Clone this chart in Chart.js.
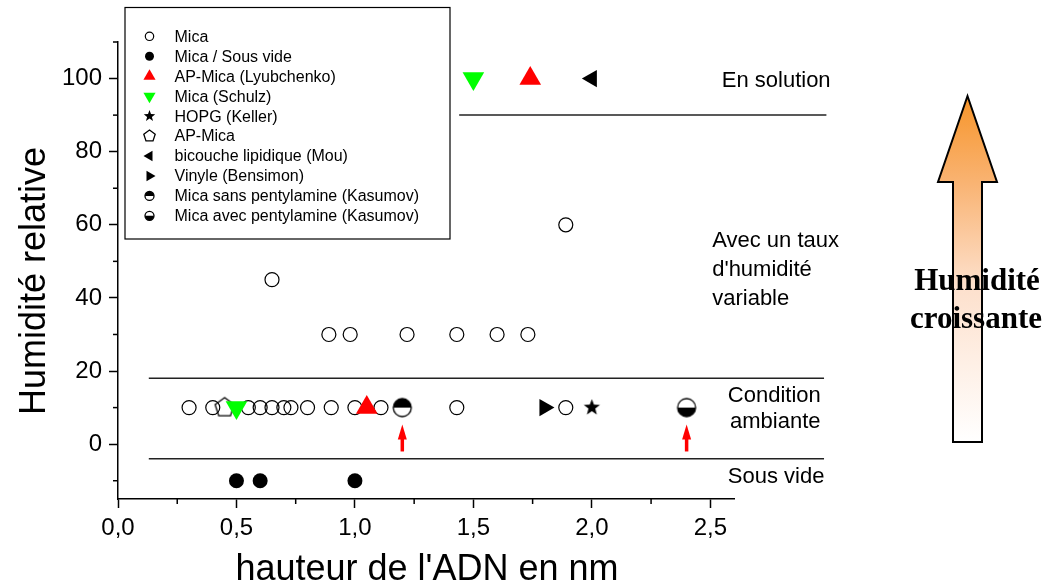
<!DOCTYPE html>
<html>
<head>
<meta charset="utf-8">
<script src="https://cdn.jsdelivr.net/npm/chart.js@4/dist/chart.umd.min.js"></script>
<style>
  html, body { margin: 0; padding: 0; background: #fff; }
  #wrap { width: 1049px; height: 588px; }
</style>
</head>
<body>
<div id="wrap"><canvas id="c" width="1049" height="588"></canvas></div>
<script>
// DNA height (nm) vs relative humidity (%) for each substrate / source
const heightMica = [0.30, 0.40, 0.55, 0.60, 0.65, 0.70, 0.73, 0.80, 0.90, 1.00, 1.11, 1.43, 1.89,
                    0.65, 0.89, 0.98, 1.22, 1.43, 1.60, 1.73, 1.89];
const humidityMica = [10, 10, 10, 10, 10, 10, 10, 10, 10, 10, 10, 10, 10,
                      45, 30, 30, 30, 30, 30, 30, 60];
const heightVacuum = [0.50, 0.60, 1.00];
const humidityVacuum = [-10, -10, -10];
const heightLyubchenko = [1.05, 1.74];
const humidityLyubchenko = [10, 100];
const heightSchulz = [0.50, 1.50];
const humiditySchulz = [10, 100];
const heightKeller = [2.00];
const humidityKeller = [10];
const heightAPMica = [0.45];
const humidityAPMica = [10];
const heightMou = [2.00];
const humidityMou = [100];
const heightBensimon = [1.80];
const humidityBensimon = [10];
const heightKasumovSans = [1.20];
const humidityKasumovSans = [10];
const heightKasumovAvec = [2.40];
const humidityKasumovAvec = [10];

// Horizontal separators between humidity regimes
const separatorY = [90, 18, -4];
const separatorFrom = [1.44, 0.13, 0.13];
const separatorTo = [2.99, 2.98, 2.98];

// Regime labels (anchor in data units, alphabetic baseline)
const zoneText = ['En solution', 'Avec un taux', "d'humidité", 'variable', 'Condition', 'ambiante', 'Sous vide'];
const zoneX = [2.778, 2.508, 2.508, 2.508, 2.770, 2.774, 2.778];
const zoneY = [97.7, 53.8, 46.0, 38.2, 11.5, 4.3, -10.6];
const zoneAlign = ['center', 'left', 'left', 'left', 'center', 'center', 'center'];

// Small red arrows under the Kasumov points
const pointerX = [1.20, 2.40];
const pointerFrom = -2;
const pointerTo = 5.4;

// Axis ticks and titles
const xTickLabelStep = 0.5;
const yTickLabelStep = 20;
const xTitle = "hauteur de l'ADN en nm";
const yTitle = 'Humidité relative';

const SANS = "'Liberation Sans', Arial, sans-serif";
const SERIF = "'Liberation Serif', 'Times New Roman', serif";

function pts(xs, ys) { return xs.map((x, i) => ({ x: x, y: ys[i] })); }

function triPath(g, x, y, r, rotDeg) {
  let rad = rotDeg * Math.PI / 180;
  g.beginPath();
  g.moveTo(x + Math.sin(rad) * r, y - Math.cos(rad) * r);
  rad += 2 * Math.PI / 3;
  g.lineTo(x + Math.sin(rad) * r, y - Math.cos(rad) * r);
  rad += 2 * Math.PI / 3;
  g.lineTo(x + Math.sin(rad) * r, y - Math.cos(rad) * r);
  g.closePath();
}

// Generic marker painter used for the plot images and the legend
function drawMarker(g, kind, x, y, r, color) {
  g.save();
  g.lineJoin = 'miter';
  switch (kind) {
    case 'openCircle':
      g.beginPath(); g.arc(x, y, r, 0, Math.PI * 2);
      g.lineWidth = 1.2; g.strokeStyle = '#000'; g.stroke();
      break;
    case 'filledCircle':
      g.beginPath(); g.arc(x, y, r, 0, Math.PI * 2);
      g.fillStyle = '#000'; g.fill();
      break;
    case 'triUp': case 'triDown': case 'triLeft': case 'triRight': {
      const rot = { triUp: 0, triDown: 180, triLeft: -90, triRight: 90 }[kind];
      triPath(g, x, y, r, rot);
      g.fillStyle = color; g.fill();
      break;
    }
    case 'star': {
      g.beginPath();
      for (let i = 0; i < 10; i++) {
        const rr = i % 2 === 0 ? r : r * 0.42;
        const a = -Math.PI / 2 + i * Math.PI / 5;
        const px = x + Math.cos(a) * rr, py = y + Math.sin(a) * rr;
        if (i === 0) g.moveTo(px, py); else g.lineTo(px, py);
      }
      g.closePath(); g.fillStyle = '#000'; g.fill();
      break;
    }
    case 'pentagon': {
      g.beginPath();
      for (let i = 0; i < 5; i++) {
        const a = -Math.PI / 2 + i * 2 * Math.PI / 5;
        const px = x + Math.cos(a) * r, py = y + Math.sin(a) * r;
        if (i === 0) g.moveTo(px, py); else g.lineTo(px, py);
      }
      g.closePath(); g.lineWidth = 1.3; g.strokeStyle = '#000'; g.stroke();
      break;
    }
    case 'halfTop': case 'halfBottom': {
      g.beginPath(); g.arc(x, y, r, 0, Math.PI * 2);
      g.fillStyle = '#fff'; g.fill();
      g.beginPath();
      if (kind === 'halfTop') g.arc(x, y, r, Math.PI, 2 * Math.PI);
      else g.arc(x, y, r, 0, Math.PI);
      g.closePath(); g.fillStyle = '#000'; g.fill();
      g.beginPath(); g.arc(x, y, r, 0, Math.PI * 2);
      g.lineWidth = 1.3; g.strokeStyle = '#000'; g.stroke();
      break;
    }
  }
  g.restore();
}

function markerImage(kind, r, color) {
  const s = Math.ceil(r * 2 + 4);
  const cv = document.createElement('canvas');
  cv.width = s; cv.height = s;
  drawMarker(cv.getContext('2d'), kind, s / 2, s / 2, r, color);
  return cv;
}

const datasets = [
  { label: 'Mica', data: pts(heightMica, humidityMica), order: 10,
    pointStyle: 'circle', pointRadius: 7, pointBorderWidth: 1.2,
    pointBorderColor: '#000', pointBackgroundColor: 'rgba(0,0,0,0)',
    marker: { kind: 'openCircle', r: 4.2 } },
  { label: 'Mica / Sous vide', data: pts(heightVacuum, humidityVacuum),
    pointStyle: 'circle', pointRadius: 7.5, pointBorderWidth: 0,
    pointBackgroundColor: '#000', pointBorderColor: '#000',
    marker: { kind: 'filledCircle', r: 4.5 } },
  { label: 'AP-Mica (Lyubchenko)', data: pts(heightLyubchenko, humidityLyubchenko),
    pointStyle: 'triangle', pointRadius: 12.5, pointBorderWidth: 0,
    pointBackgroundColor: '#ff0000', pointBorderColor: '#ff0000',
    marker: { kind: 'triUp', r: 7, color: '#ff0000' } },
  { label: 'Mica (Schulz)', data: pts(heightSchulz, humiditySchulz),
    pointStyle: 'triangle', pointRotation: 180, pointRadius: 12.5, pointBorderWidth: 0,
    pointBackgroundColor: '#00ff00', pointBorderColor: '#00ff00',
    marker: { kind: 'triDown', r: 7, color: '#00ff00' } },
  { label: 'HOPG (Keller)', data: pts(heightKeller, humidityKeller),
    pointStyle: markerImage('star', 8.5), pointRadius: 8.5,
    marker: { kind: 'star', r: 6 } },
  { label: 'AP-Mica', data: pts(heightAPMica, humidityAPMica),
    pointStyle: markerImage('pentagon', 10), pointRadius: 10,
    marker: { kind: 'pentagon', r: 6 } },
  { label: 'bicouche lipidique (Mou)', data: pts(heightMou, humidityMou),
    pointStyle: 'triangle', pointRotation: -90, pointRadius: 10, pointBorderWidth: 0,
    pointBackgroundColor: '#000', pointBorderColor: '#000',
    marker: { kind: 'triLeft', r: 6, color: '#000' } },
  { label: 'Vinyle (Bensimon)', data: pts(heightBensimon, humidityBensimon),
    pointStyle: 'triangle', pointRotation: 90, pointRadius: 10, pointBorderWidth: 0,
    pointBackgroundColor: '#000', pointBorderColor: '#000',
    marker: { kind: 'triRight', r: 6, color: '#000' } },
  { label: 'Mica sans pentylamine (Kasumov)', data: pts(heightKasumovSans, humidityKasumovSans),
    pointStyle: markerImage('halfTop', 9), pointRadius: 9,
    marker: { kind: 'halfTop', r: 4.5 } },
  { label: 'Mica avec pentylamine (Kasumov)', data: pts(heightKasumovAvec, humidityKasumovAvec),
    pointStyle: markerImage('halfBottom', 9), pointRadius: 9,
    marker: { kind: 'halfBottom', r: 4.5 } }
];
const legendCount = datasets.length;

// Regime separators as unclipped two-point line series
separatorY.forEach((y, i) => {
  datasets.push({
    label: 'sep' + i, type: 'line', showLine: true, clip: false, order: 20,
    data: [{ x: separatorFrom[i], y: y }, { x: separatorTo[i], y: y }],
    borderColor: '#222', borderWidth: 1.5, pointRadius: 0, fill: false
  });
});

const isMultiple = (v, step) => Math.abs(v / step - Math.round(v / step)) < 1e-6;

const overlayPlugin = {
  id: 'overlay',
  afterDraw(chart) {
    const g = chart.ctx;
    const xs = chart.scales.x, ys = chart.scales.y;
    const area = chart.chartArea;
    g.save();

    // minor ticks
    g.strokeStyle = '#000'; g.lineWidth = 1.5;
    xs.ticks.forEach(t => {
      if (isMultiple(t.value, xTickLabelStep)) return;
      const px = xs.getPixelForValue(t.value);
      g.beginPath(); g.moveTo(px, area.bottom); g.lineTo(px, area.bottom + 5); g.stroke();
    });
    ys.ticks.forEach(t => {
      if (isMultiple(t.value, yTickLabelStep)) return;
      const py = ys.getPixelForValue(t.value);
      g.beginPath(); g.moveTo(area.left - 5, py); g.lineTo(area.left, py); g.stroke();
    });

    // axis titles
    g.fillStyle = '#000';
    g.font = '36px ' + SANS;
    g.textAlign = 'center'; g.textBaseline = 'alphabetic';
    g.fillText(xTitle, 427, 580);
    g.save();
    g.translate(45, 281);
    g.rotate(-Math.PI / 2);
    g.fillText(yTitle, 0, 0);
    g.restore();

    // regime labels
    g.font = '22px ' + SANS;
    zoneText.forEach((t, i) => {
      g.textAlign = zoneAlign[i];
      g.fillText(t, xs.getPixelForValue(zoneX[i]), ys.getPixelForValue(zoneY[i]));
    });

    // red pointers
    g.fillStyle = '#ff0000'; g.strokeStyle = '#ff0000';
    pointerX.forEach(v => {
      const px = xs.getPixelForValue(v);
      const yb = ys.getPixelForValue(pointerFrom);
      const yt = ys.getPixelForValue(pointerTo);
      const headLen = 15;
      g.lineWidth = 3.5;
      g.beginPath(); g.moveTo(px, yb); g.lineTo(px, yt + headLen - 2); g.stroke();
      g.beginPath();
      g.moveTo(px, yt);
      g.lineTo(px + 4.5, yt + headLen);
      g.lineTo(px - 4.5, yt + headLen);
      g.closePath(); g.fill();
    });

    // legend box
    const lx = area.left + 7, ly = 7.5, lw = 325, lh = 231.5;
    g.fillStyle = '#fff';
    g.fillRect(lx, ly, lw, lh);
    g.strokeStyle = '#000'; g.lineWidth = 1.2;
    g.strokeRect(lx, ly, lw, lh);
    g.font = '16px ' + SANS;
    g.textAlign = 'left'; g.textBaseline = 'middle';
    for (let i = 0; i < legendCount; i++) {
      const ds = chart.data.datasets[i];
      const cy = 36.3 + i * 19.95;
      drawMarker(g, ds.marker.kind, lx + 24.5, cy, ds.marker.r, ds.marker.color || '#000');
      g.fillStyle = '#000';
      g.fillText(ds.label, lx + 49.5, cy + 1);
    }

    // rising-humidity arrow
    const ax = 967.5, tipY = 96, headY = 182, baseY = 442, headHalf = 29.5, shaftHalf = 14.5;
    const grad = g.createLinearGradient(0, tipY, 0, baseY);
    grad.addColorStop(0, '#f7952a');
    grad.addColorStop(0.25, '#f9b372');
    grad.addColorStop(0.55, '#fde0cc');
    grad.addColorStop(1, '#ffffff');
    g.beginPath();
    g.moveTo(ax, tipY);
    g.lineTo(ax + headHalf, headY);
    g.lineTo(ax + shaftHalf, headY);
    g.lineTo(ax + shaftHalf, baseY);
    g.lineTo(ax - shaftHalf, baseY);
    g.lineTo(ax - shaftHalf, headY);
    g.lineTo(ax - headHalf, headY);
    g.closePath();
    g.fillStyle = grad; g.fill();
    g.strokeStyle = '#000'; g.lineWidth = 2; g.stroke();
    g.fillStyle = '#000';
    g.font = 'bold 31px ' + SERIF;
    g.textAlign = 'center'; g.textBaseline = 'alphabetic';
    g.fillText('Humidité', 977, 290);
    g.fillText('croissante', 976, 328);

    g.restore();
  }
};

new Chart(document.getElementById('c'), {
  type: 'scatter',
  data: { datasets: datasets },
  options: {
    responsive: false,
    animation: false,
    devicePixelRatio: 1,
    layout: { padding: { top: 42, right: 315, left: 0, bottom: 0 } },
    plugins: { legend: { display: false }, tooltip: { enabled: false } },
    events: [],
    scales: {
      x: {
        type: 'linear', min: 0, max: 2.6,
        afterFit(s) { s.height = 89; },
        border: { color: '#000', width: 1.5 },
        grid: {
          drawOnChartArea: false, drawTicks: true, tickLength: 9, tickWidth: 1.5,
          tickColor: c => (c.tick && isMultiple(c.tick.value, xTickLabelStep)) ? '#000' : 'rgba(0,0,0,0)'
        },
        ticks: {
          stepSize: 0.25, includeBounds: false, autoSkip: false, maxRotation: 0,
          padding: 6, color: '#000', font: { family: SANS, size: 24 },
          callback: v => isMultiple(v, xTickLabelStep) ? v.toFixed(1).replace('.', ',') : ''
        }
      },
      y: {
        type: 'linear', min: -15, max: 110,
        afterFit(s) { s.width = 118; },
        border: { color: '#000', width: 1.5 },
        grid: {
          drawOnChartArea: false, drawTicks: true, tickLength: 9, tickWidth: 1.5,
          tickColor: c => (c.tick && isMultiple(c.tick.value, yTickLabelStep)) ? '#000' : 'rgba(0,0,0,0)'
        },
        ticks: {
          stepSize: 10, includeBounds: false, autoSkip: false,
          padding: 7, color: '#000', font: { family: SANS, size: 24 },
          callback: v => isMultiple(v, yTickLabelStep) ? String(v) : ''
        }
      }
    }
  },
  plugins: [overlayPlugin]
});
</script>
</body>
</html>
